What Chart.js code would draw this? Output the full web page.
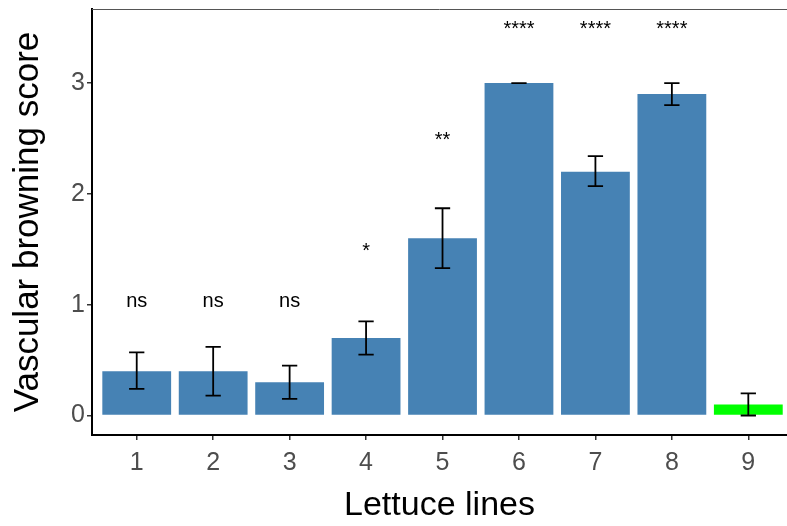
<!DOCTYPE html>
<html>
<head>
<meta charset="utf-8">
<script src="https://cdn.jsdelivr.net/npm/chart.js@4"></script>
<style>
  html, body { margin: 0; padding: 0; background: #fff; overflow: hidden; }
</style>
</head>
<body>
<canvas id="myChart" width="787" height="526"></canvas>
<script>
// lettuce lines on x, mean score and error bar ends
var lines = [1, 2, 3, 4, 5, 6, 7, 8, 9];
var lineLabels = ["1", "2", "3", "4", "5", "6", "7", "8", "9"];
var scores = [0.4, 0.4, 0.3, 0.7, 1.6, 3.0, 2.2, 2.9, 0.1];
var errLow = [0.24, 0.18, 0.15, 0.55, 1.33, 3.0, 2.07, 2.8, 0.0];
var errHigh = [0.57, 0.62, 0.45, 0.85, 1.87, 3.0, 2.34, 3.0, 0.2];
var sigText = ["ns", "ns", "ns", "*", "**", "****", "****", "****"];
var sigY = [0.98, 0.98, 0.98, 1.43, 2.43, 3.43, 3.43, 3.43];
var yTicks = [0, 1, 2, 3];

var barColors = scores.map(function(v, i){
	return i == 8 ? "#00FF00" : "#4682B4";
});

var points = [];
for (var i = 0; i < lines.length; i++) {
	points.push({x: lines[i], y: scores[i]});
}

var extras = {
	id: "extras",
	afterDatasetsDraw: function(chart){
		var ctx = chart.ctx;
		var xs = chart.scales.x;
		var ys = chart.scales.y;
		var area = chart.chartArea;
		ctx.save();
		// top border
		ctx.strokeStyle = "#555";
		ctx.lineWidth = 1;
		ctx.beginPath();
		ctx.moveTo(area.left, area.top + 0.5);
		ctx.lineTo(area.right, area.top + 0.5);
		ctx.stroke();

		// error bars
		ctx.strokeStyle = "#000";
		ctx.lineWidth = 1.8;
		var half = (xs.getPixelForValue(1.1) - xs.getPixelForValue(1)) ;
		for (var i = 0; i < lines.length; i++) {
			var px = xs.getPixelForValue(lines[i]);
			var lo = ys.getPixelForValue(errLow[i]);
			var hi = ys.getPixelForValue(errHigh[i]);
			ctx.beginPath();
			ctx.moveTo(px, lo);
			ctx.lineTo(px, hi);
			ctx.moveTo(px - half, lo);
			ctx.lineTo(px + half, lo);
			ctx.moveTo(px - half, hi);
			ctx.lineTo(px + half, hi);
			ctx.stroke();
		}

		// significance labels
		ctx.fillStyle = "#000";
		ctx.font = "20px 'Liberation Sans', Arial, sans-serif";
		ctx.textAlign = "center";
		ctx.textBaseline = "alphabetic";
		for (var j = 0; j < sigText.length; j++) {
			ctx.fillText(sigText[j], xs.getPixelForValue(lines[j]), ys.getPixelForValue(sigY[j]));
		}
		ctx.restore();
	}
};

var myChart = document.getElementById("myChart").getContext("2d");

var chart = new Chart(myChart, {
	type: "bar",
	data: {
		datasets: [
		{
			label: "Vascular browning score",
			data: points,
			backgroundColor: barColors,
			barPercentage: 0.9,
			categoryPercentage: 1.0
		}
		]
	},
	options: {
		responsive: false,
		animation: false,
		layout: { padding: { top: 9, left: 0, right: 0, bottom: 0 } },
		plugins: {
			legend: { display: false },
			tooltip: { enabled: false }
		},
		scales: {
			x: {
				type: "linear",
				min: 0.415,
				max: 9.506,
				offset: false,
				afterFit: function(scale){
					scale.height = 91;
					scale.paddingLeft = 0;
					scale.paddingRight = 0;
				},
				afterBuildTicks: function(scale){
					scale.ticks = lines.map(function(v){ return {value: v}; });
				},
				ticks: {
					autoSkip: false,
					maxRotation: 0,
					padding: 8,
					color: "#4D4D4D",
					font: { family: "'Liberation Sans', Arial, sans-serif", size: 25 },
					callback: function(v){ return lineLabels[lines.indexOf(v)]; }
				},
				grid: {
					offset: false,
					drawOnChartArea: false,
					drawTicks: true,
					tickLength: 5,
					color: "#333",
					lineWidth: 1.5
				},
				border: { color: "#000", width: 2 },
				title: {
					display: true,
					text: "Lettuce lines",
					color: "#000",
					font: { family: "'Liberation Sans', Arial, sans-serif", size: 34 },
					padding: { top: 0, bottom: 0 }
				}
			},
			y: {
				min: -0.176,
				max: 3.668,
				afterFit: function(scale){
					scale.width = 92;
					scale.paddingTop = 0;
					scale.paddingBottom = 0;
				},
				afterBuildTicks: function(scale){
					scale.ticks = yTicks.map(function(v){ return {value: v}; });
				},
				ticks: {
					padding: 2,
					color: "#4D4D4D",
					font: { family: "'Liberation Sans', Arial, sans-serif", size: 25 }
				},
				grid: {
					drawOnChartArea: false,
					drawTicks: true,
					tickLength: 5,
					color: "#333",
					lineWidth: 1.5
				},
				border: { color: "#000", width: 2 },
				title: {
					display: true,
					text: "Vascular browning score",
					color: "#000",
					font: { family: "'Liberation Sans', Arial, sans-serif", size: 35 },
					padding: { top: 7, bottom: 0 }
				}
			}
		}
	},
	plugins: [extras]
});
</script>
</body>
</html>
